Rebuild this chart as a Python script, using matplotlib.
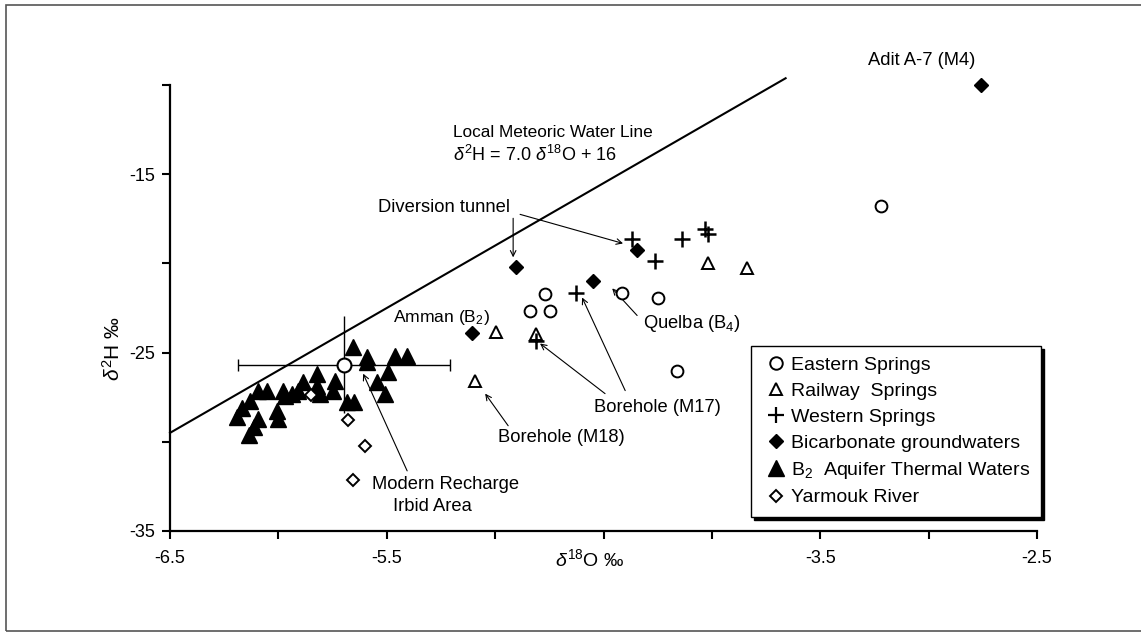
import numpy as np
import matplotlib.pyplot as plt
from matplotlib.patches import Rectangle

plt.rcParams['font.family'] = ['Liberation Sans', 'DejaVu Sans']
plt.rcParams['mathtext.fontset'] = 'custom'
plt.rcParams['mathtext.rm'] = 'Liberation Sans'
plt.rcParams['mathtext.it'] = 'Liberation Sans:italic'

####################################
#               Data               #
####################################

# Eastern Springs (open circles)
east_o18 = [-4.770, -4.839, -4.746, -4.416, -4.247, -4.159, -3.220]
east_h2 = [-21.70, -22.68, -22.68, -21.67, -21.95, -26.01, -16.76]

# Railway Springs (open triangles)
rail_o18 = [-4.996, -4.813, -4.016, -3.839, -5.093]
rail_h2 = [-23.86, -23.95, -19.98, -20.24, -26.57]

# Western Springs (crosses)
west_o18 = [-4.369, -4.139, -4.031, -4.016, -4.262, -4.627, -4.813]
west_h2 = [-18.65, -18.65, -18.05, -18.33, -19.89, -21.67, -24.33]

# Bicarbonate groundwaters (filled diamonds)
bicarb_o18 = [-4.903, -4.346, -4.547, -5.105, -2.757]
bicarb_h2 = [-20.21, -19.23, -20.96, -23.89, -10.0]

# B2 aquifer thermal waters (filled triangles)
b2_o18 = [-5.657, -5.589, -5.592, -5.462, -5.408, -5.493, -5.546, -5.506,
          -5.685, -5.651, -5.739, -5.746, -5.823, -5.808, -5.823, -5.885,
          -5.908, -5.939, -5.977, -5.969, -6.054, -6.093, -6.131, -6.169,
          -6.192, -6.093, -6.112, -6.134, -6.008, -6.000]
b2_h2 = [-24.70, -25.22, -25.54, -25.17, -25.17, -26.11, -26.67, -27.32,
         -27.79, -27.79, -26.57, -27.13, -26.20, -27.32, -26.85, -26.67,
         -27.13, -27.32, -27.13, -27.42, -27.13, -27.13, -27.70, -28.11,
         -28.60, -28.73, -29.19, -29.61, -28.26, -28.73]

# Yarmouk River (open diamonds)
yarm_o18 = [-5.851, -5.680, -5.600, -5.657]
yarm_h2 = [-27.36, -28.78, -30.26, -32.15]

# Modern recharge, Irbid area (mean with error bars)
rech_o18 = -5.696
rech_h2 = -25.67
rech_err_o18 = 0.49
rech_err_h2 = 2.7

# Local meteoric water line: d2H = 7.0 d18O + 16
lmwl_slope = 7.0
lmwl_icpt = 16.0
lmwl_range = [-6.5, -3.66]

# tick labels (the -4.5 slot is taken by the axis title in the original)
xtick_pos = [-6.5, -5.5, -3.5, -2.5]
xtick_lab = ['-6.5', '-5.5', '-3.5', '-2.5']
ytick_pos = [-35, -25, -15]
ytick_lab = ['-35', '-25', '-15']

####################################
#               Plot               #
####################################

fig = plt.figure(figsize=(11.41, 6.35), dpi=100)
ax = fig.add_axes([0.149, 0.1638, 0.7599, 0.7023])

fig.patches.append(Rectangle((6/1141, 4/635), 1.2, 1 - 9/635,
                             transform=fig.transFigure, fill=False,
                             edgecolor='#555555', lw=1.2))

lx = np.array(lmwl_range)
ax.plot(lx, lmwl_slope*lx + lmwl_icpt, color='black', lw=1.5, clip_on=False)

ax.errorbar(rech_o18, rech_h2, xerr=rech_err_o18,
            fmt='none', ecolor='black', elinewidth=1.0, capsize=4, zorder=2)
ax.errorbar(rech_o18, rech_h2, yerr=rech_err_h2,
            fmt='none', ecolor='black', elinewidth=1.0, capsize=0, zorder=2)
ax.plot(rech_o18, rech_h2, 'o', ms=10, mfc='white', mec='black', mew=1.5, zorder=5)

ax.plot(b2_o18, b2_h2, '^', ms=11, color='black', ls='none', zorder=3)
ax.plot(yarm_o18, yarm_h2, 'D', ms=6.5, mfc='white', mec='black', mew=1.4, ls='none', zorder=4)
ax.plot(east_o18, east_h2, 'o', ms=8.5, mfc='white', mec='black', mew=1.4, ls='none', zorder=4)
ax.plot(rail_o18, rail_h2, '^', ms=9, mfc='white', mec='black', mew=1.4, ls='none', zorder=4)
ax.plot(west_o18, west_h2, '+', ms=11, color='black', mew=1.8, ls='none', zorder=4)
ax.plot(bicarb_o18, bicarb_h2, 'D', ms=7, color='black', ls='none', zorder=4, clip_on=False)

# legend, drawn with proxy handles in the order of the original
h = [
    ax.plot([], [], 'o', ms=9, mfc='white', mec='black', mew=1.4)[0],
    ax.plot([], [], '^', ms=8.5, mfc='white', mec='black', mew=1.4)[0],
    ax.plot([], [], '+', ms=12, color='black', mew=1.6)[0],
    ax.plot([], [], 'D', ms=7, color='black')[0],
    ax.plot([], [], '^', ms=11, color='black')[0],
    ax.plot([], [], 'D', ms=6.5, mfc='white', mec='black', mew=1.4)[0],
]
labels = ['Eastern Springs', 'Railway  Springs', 'Western Springs',
          'Bicarbonate groundwaters', r'B$_2$  Aquifer Thermal Waters', 'Yarmouk River']
leg = ax.legend(h, labels, loc='lower left', bbox_to_anchor=(0.670, 0.031),
                frameon=True, fancybox=False, handlelength=1.45, handletextpad=0.05,
                labelspacing=0.42, borderpad=0.55, borderaxespad=0, fontsize=14,
                shadow={'color': 'black', 'alpha': 1.0})
leg.get_frame().set_edgecolor('black')
leg.get_frame().set_linewidth(1.0)
leg.set_zorder(10)

# annotations
tk = dict(fontsize=13.2)
ap = dict(arrowstyle='->', lw=0.8, color='black', shrinkA=0, shrinkB=0)
ax.text(-3.03, -8.6, 'Adit A-7 (M4)', ha='center', va='center', clip_on=False, **tk)
ax.text(-5.194, -12.64, 'Local Meteoric Water Line', ha='left', va='center', fontsize=12.4)
ax.text(-5.194, -13.93, r'$\delta^2$H = 7.0 $\delta^{18}$O + 16', ha='left', va='center', fontsize=13)
ax.text(-4.93, -16.85, 'Diversion tunnel', ha='right', va='center', **tk)
ax.annotate('', xy=(-4.917, -19.66), xytext=(-4.917, -17.47), arrowprops=ap)
ax.annotate('', xy=(-4.41, -18.88), xytext=(-4.885, -17.25), arrowprops=ap)
ax.text(-5.023, -23.03, r'Amman (B$_2$)', ha='right', va='center', fontsize=12.6)
ax.text(-4.317, -23.37, r'Quelba (B$_4$)', ha='left', va='center', **tk)
ax.annotate('', xy=(-4.46, -21.40), xytext=(-4.345, -22.92), arrowprops=ap)
ax.text(-4.543, -28.09, 'Borehole (M17)', ha='left', va='center', **tk)
ax.annotate('', xy=(-4.599, -21.91), xytext=(-4.40, -27.13), arrowprops=ap)
ax.annotate('', xy=(-4.793, -24.49), xytext=(-4.493, -27.30), arrowprops=ap)
ax.text(-4.986, -29.78, 'Borehole (M18)', ha='left', va='center', **tk)
ax.annotate('', xy=(-5.046, -27.30), xytext=(-4.94, -29.10), arrowprops=ap)
ax.text(-5.568, -32.42, 'Modern Recharge', ha='left', va='center', **tk)
ax.text(-5.471, -33.60, 'Irbid Area', ha='left', va='center', **tk)
ax.annotate('', xy=(-5.609, -26.18), xytext=(-5.406, -31.63), arrowprops=ap)

# axes
ax.set_xlim(-6.5, -2.5)
ax.set_ylim(-35, -10)
ax.set_xticks(xtick_pos, xtick_lab)
ax.set_xticks([-6.0, -5.0, -4.5, -4.0, -3.0], minor=True)
ax.set_yticks(ytick_pos, ytick_lab)
ax.set_yticks([-30, -20, -10], minor=True)
ax.tick_params(which='both', direction='out', length=6, width=1.5, labelsize=13)
ax.tick_params(axis='x', pad=8)
ax.tick_params(axis='y', pad=5)
for s in ['top', 'right']:
    ax.spines[s].set_visible(False)
for s in ['left', 'bottom']:
    ax.spines[s].set_linewidth(1.6)
ax.set_xlabel(r'$\delta^{18}$O ‰', fontsize=14)
ax.set_ylabel(r'$\delta^2$H ‰', fontsize=15)
ax.xaxis.set_label_coords(0.484, -0.038)
ax.yaxis.set_label_coords(-0.053, 0.41)

plt.savefig('out.png', dpi=100)
